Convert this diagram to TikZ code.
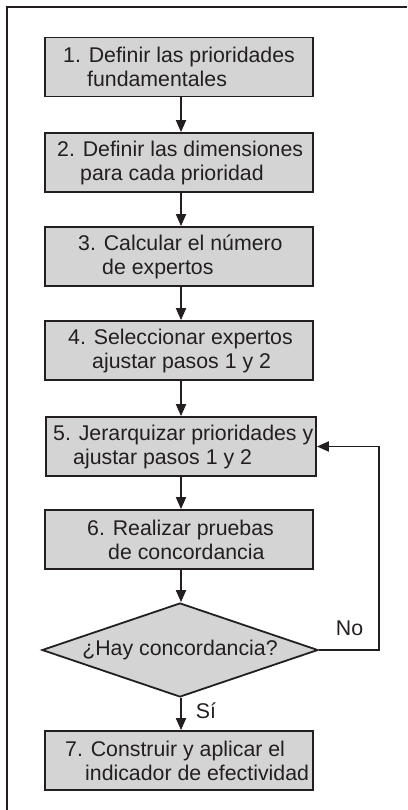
\documentclass[tikz,border=0pt]{standalone}
\usepackage{fontspec}
\setmainfont{Liberation Sans}
\usetikzlibrary{arrows.meta,shapes.geometric}
\definecolor{ink}{HTML}{231F20}
\definecolor{boxfill}{HTML}{D4D4D4}
\begin{document}
\begin{tikzpicture}[x=1pt,y=-1pt,
  stepbox/.style={draw=ink,line width=1.8pt,fill=boxfill,minimum width=268pt,minimum height=59pt,inner sep=0pt},
  txt/.style={anchor=west,align=left,inner sep=0pt,text=ink,font=\fontsize{21.3}{24}\selectfont},
  lbl/.style={inner sep=0pt,text=ink,font=\fontsize{21.3}{24}\selectfont},
  arr/.style={draw=ink,line width=1.8pt,-{Triangle[width=10pt,length=12pt]}},
  frame/.style={draw=ink,line width=1.8pt}]
\useasboundingbox (0,0) rectangle (407,810);
% outer frame (top and left visible)
\draw[frame] (407,7) -- (7,7) -- (7,810);
% boxes
\node[stepbox] (b1) at (179,67) {};
\node[txt] (t1) at (63,67) {1. Definir las prioridades\\\hspace*{24pt}fundamentales};
\node[stepbox] (b2) at (179,162.5) {};
\node[txt] (t2) at (57,162.5) {2. Definir las dimensiones\\\hspace*{23pt}para cada prioridad};
\node[stepbox] (b3) at (179,256.5) {};
\node[txt] (t3) at (78,256.5) {3. Calcular el número\\\hspace*{24pt}de expertos};
\node[stepbox] (b4) at (179,350.5) {};
\node[txt] (t4) at (68,350.5) {4. Seleccionar expertos\\\hspace*{24pt}ajustar pasos 1 y 2};
\node[stepbox,minimum width=270pt] (b5) at (181,446.5) {};
\node[txt] (t5) at (53,446.5) {5. Jerarquizar prioridades y\\\hspace*{20pt}ajustar pasos 1 y 2};
\node[stepbox] (b6) at (179,539.5) {};
\node[txt] (t6) at (87,539.5) {6. Realizar pruebas\\\hspace*{21pt}de concordancia};
\node[draw=ink,line width=1.8pt,fill=boxfill,shape=diamond,aspect=2.94,minimum width=276pt,minimum height=94pt,inner sep=0pt,text=ink,font=\fontsize{21.3}{24}\selectfont] (d) at (180,650) {¿Hay concordancia?};
\node[stepbox] (b7) at (179,760.5) {};
\node[txt] (t7) at (65,760.5) {7. Construir y aplicar el\\\hspace*{20pt}indicador de efectividad};
% connectors
\draw[arr] ([xshift=2pt]b1.south) -- ([xshift=2pt]b2.north);
\draw[arr] ([xshift=2pt]b2.south) -- ([xshift=2pt]b3.north);
\draw[arr] ([xshift=2pt]b3.south) -- ([xshift=2pt]b4.north);
\draw[arr] ([xshift=2pt]b4.south) -- (b5.north);
\draw[arr] (b5.south) -- ([xshift=2pt]b6.north);
\draw[arr] ([xshift=2pt]b6.south) -- ([xshift=1pt]d.north);
\draw[arr] ([xshift=1pt]d.south) -- ([xshift=2pt]b7.north);
\coordinate (fb) at (379,0);
\draw[arr] (d.east) -- (d.east -| fb) |- (b5.east);
% labels
\node[lbl] (no) at (349.5,628.5) {No};
\node[lbl] (si) at (206,711) {Sí};
\end{tikzpicture}
\end{document}
